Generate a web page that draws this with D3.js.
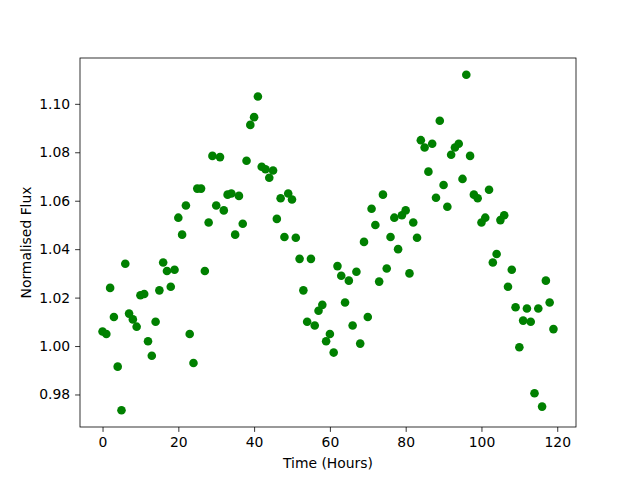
<!DOCTYPE html>
<html><head><meta charset="utf-8">
<script src="https://cdn.jsdelivr.net/npm/d3@7"></script>
<style>body{margin:0;background:#fff}svg{display:block}text{font-family:"DejaVu Sans",sans-serif}</style>
</head><body>
<svg id="c" width="640" height="480"></svg>
<script>
const hours = d3.range(0, 120);
const flux = [
1.006,1.005,1.024,1.012,0.9915,0.9735,1.034,1.0134,1.011,1.008,
1.021,1.0215,1.002,0.996,1.010,1.023,1.0345,1.031,1.0245,1.0315,
1.053,1.046,1.058,1.005,0.993,1.065,1.065,1.031,1.051,1.0785,
1.058,1.078,1.056,1.0625,1.063,1.046,1.062,1.0505,1.0765,1.0913,
1.0945,1.103,1.074,1.073,1.0695,1.0725,1.0525,1.061,1.045,1.063,
1.0605,1.0447,1.036,1.023,1.010,1.036,1.0085,1.0146,1.017,1.002,
1.005,0.9973,1.033,1.029,1.018,1.027,1.0085,1.0307,1.001,1.043,
1.012,1.0567,1.050,1.0266,1.0625,1.032,1.045,1.053,1.040,1.054,
1.056,1.030,1.051,1.0447,1.085,1.082,1.072,1.0835,1.0612,1.093,
1.0665,1.0575,1.079,1.082,1.0835,1.069,1.112,1.0785,1.0625,1.061,
1.051,1.053,1.0645,1.0345,1.038,1.052,1.054,1.0245,1.0315,1.016,
0.9995,1.0105,1.0155,1.010,0.9805,1.0155,0.975,1.027,1.018,1.007
];
const xTicks = [0,20,40,60,80,100,120];
const yTicks = [0.98,1.00,1.02,1.04,1.06,1.08,1.10];

const L=80,R=576,T=58,B=427;
const svg = d3.select("#c");
function pad(ext){const d=(ext[1]-ext[0])*0.05;return [ext[0]-d,ext[1]+d];}
const x = d3.scaleLinear().domain(pad(d3.extent(hours))).range([L,R]);
const y = d3.scaleLinear().domain(pad(d3.extent(flux))).range([B,T]);

svg.append("g").selectAll("circle").data(hours).join("circle")
  .attr("cx",(d)=>x(d)).attr("cy",(d,i)=>y(flux[i])).attr("r",4.3)
  .attr("fill","#008000");

const fs = "13.9px";
const xa = svg.append("g").attr("transform",`translate(0,${B})`)
  .call(d3.axisBottom(x).tickValues(xTicks).tickFormat(d3.format("d")).tickSize(4.9).tickPadding(4.9));
const ya = svg.append("g").attr("transform",`translate(${L},0)`)
  .call(d3.axisLeft(y).tickValues(yTicks).tickFormat(d3.format(".2f")).tickSize(4.9).tickPadding(4.9));
[xa,ya].forEach(a=>{
  a.select(".domain").remove();
  a.selectAll("line").attr("stroke","#000").attr("stroke-width",0.8);
  a.selectAll("text").attr("font-size",fs).attr("font-family","DejaVu Sans").attr("fill","#000");
});
svg.append("rect").attr("x",L).attr("y",T).attr("width",R-L).attr("height",B-T)
  .attr("fill","none").attr("stroke","#000").attr("stroke-width",0.8);

svg.append("text").attr("x",(L+R)/2).attr("y",468).attr("text-anchor","middle")
  .attr("font-size",fs).text("Time (Hours)");
svg.append("text").attr("transform",`translate(31,${(T+B)/2}) rotate(-90)`).attr("text-anchor","middle")
  .attr("font-size",fs).text("Normalised Flux");
</script>
</body></html>
